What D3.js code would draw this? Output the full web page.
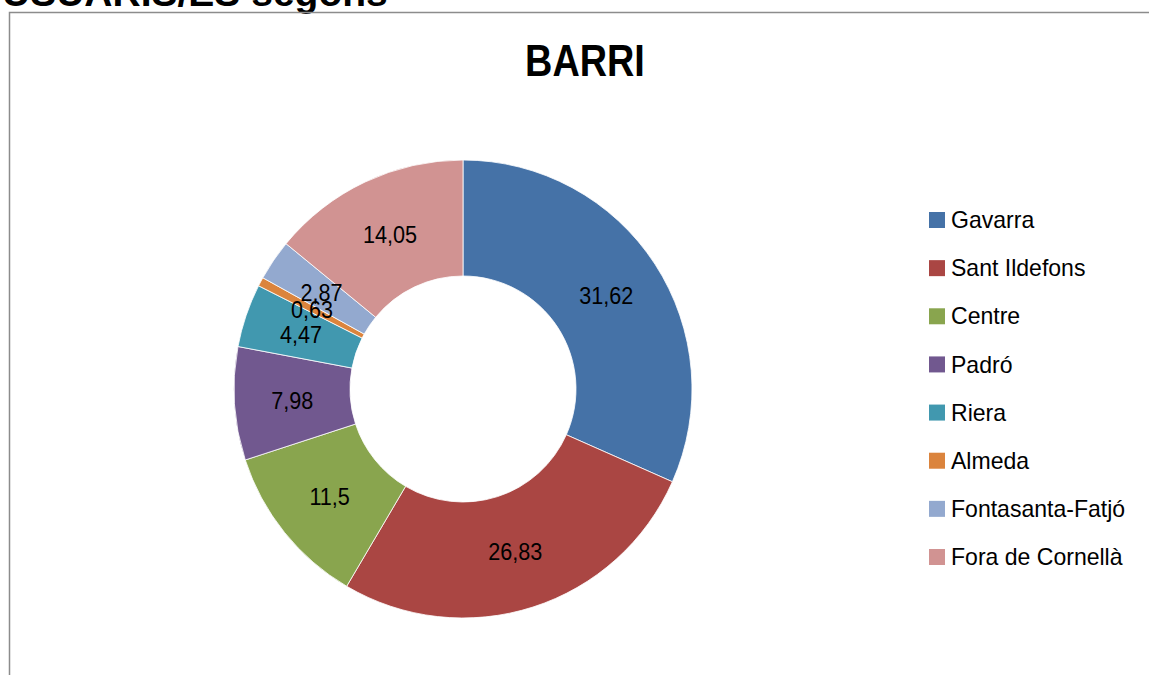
<!DOCTYPE html>
<meta charset="utf-8">
<style>
  body { margin: 0; background: #fff; }
  svg text { font-family: "Liberation Sans", Arial, sans-serif; }
</style>
<svg width="1149" height="675"></svg>
<script src="https://cdn.jsdelivr.net/npm/d3@7"></script>
<script>
  var barris = ["Gavarra", "Sant Ildefons", "Centre", "Padró", "Riera", "Almeda", "Fontasanta-Fatjó", "Fora de Cornellà"];
  var valors = [31.62, 26.83, 11.5, 7.98, 4.47, 0.63, 2.87, 14.05];
  var colors = ["#4572A7", "#AA4643", "#89A54E", "#71588F", "#4198AF", "#DB843D", "#93A9CF", "#D19392"];

  var svg = d3.select("svg");
  var cx = 463, cy = 389, rOut = 229, rIn = 113;

  // heading cut off at top of the page
  svg.append("text")
    .attr("x", 2).attr("y", 6)
    .style("font-weight", "bold").style("font-size", "39px")
    .text("USUARIS/ES segons");

  // chart frame
  svg.append("rect")
    .attr("x", 9.5).attr("y", 12.5)
    .attr("width", 1160).attr("height", 700)
    .attr("fill", "none").attr("stroke", "#8c8c8c").attr("stroke-width", 1.5);

  // title, squeezed a bit to look like the narrow office font
  svg.append("text")
    .attr("transform", "translate(585,76) scale(0.86,1)")
    .attr("text-anchor", "middle")
    .style("font-weight", "bold").style("font-size", "44px")
    .text("BARRI");

  var data = barris.map(function(b, i) { return {name: b, value: valors[i]}; });
  var color = d3.scaleOrdinal().domain(barris).range(colors);
  var pie = d3.pie().sort(null).value(function(d) { return d.value; });
  var arc = d3.arc().innerRadius(rIn).outerRadius(rOut);

  var g = svg.append("g").attr("transform", "translate(" + cx + "," + cy + ")");
  var arcs = pie(data);

  g.selectAll("path")
    .data(arcs)
    .enter().append("path")
    .attr("d", arc)
    .attr("fill", function(d) { return color(d.data.name); })
    .attr("stroke", "#fff").attr("stroke-width", 0.8);

  g.selectAll("text.lbl")
    .data(arcs)
    .enter().append("text")
    .attr("class", "lbl")
    .attr("transform", function(d) { return "translate(" + arc.centroid(d) + ") scale(0.9,1)"; })
    .attr("text-anchor", "middle")
    .attr("dy", "0.36em")
    .style("font-size", "24px")
    .text(function(d) { return String(d.data.value).replace(".", ","); });

  var legend = svg.append("g");
  var ly = d3.scalePoint().domain(barris).range([219, 556]);
  var item = legend.selectAll("g")
    .data(barris)
    .enter().append("g")
    .attr("transform", function(d) { return "translate(929," + ly(d) + ")"; });
  item.append("rect")
    .attr("x", 0).attr("y", -7).attr("width", 16).attr("height", 16)
    .attr("fill", function(d) { return color(d); });
  item.append("text")
    .attr("transform", "translate(22,0) scale(0.96,1)")
    .attr("dy", "0.38em")
    .style("font-size", "24px")
    .text(function(d) { return d; });
</script>
